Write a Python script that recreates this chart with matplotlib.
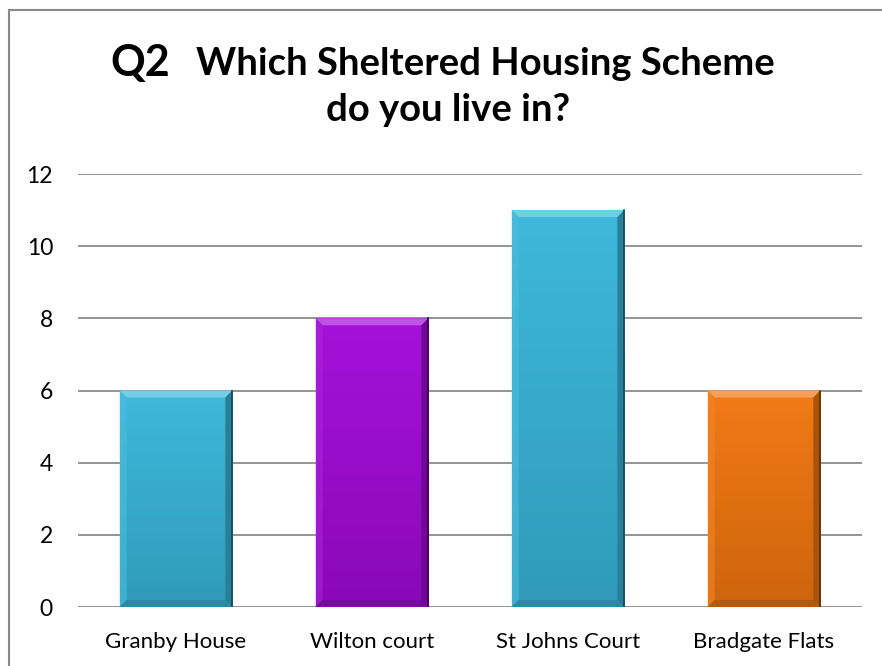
import matplotlib
matplotlib.use("Agg")
import matplotlib.pyplot as plt
import numpy as np
from matplotlib.patches import Polygon
from matplotlib.colors import to_rgb

categories = ["Granby House", "Wilton court", "St Johns Court", "Bradgate Flats"]
values = [6, 8, 11, 6]
colors = ["#38B6DA", "#A20AD8", "#38B6DA", "#F2760F"]
yticks = [0, 2, 4, 6, 8, 10, 12]

W, H = 882, 666
plt.rcParams['font.family'] = ['Lato', 'DejaVu Sans']
fig = plt.figure(figsize=(W / 100, H / 100), dpi=100)

# axes placement in pixels
L, R, T, B = 78, 862, 174, 607
ax = fig.add_axes([L / W, 1 - B / H, (R - L) / W, (B - T) / H])

x = np.arange(len(categories))
bw = 0.575
bars = ax.bar(x, values, width=bw, color=colors, zorder=3, linewidth=0)

ax.set_xlim(-0.5, len(categories) - 0.5)
ax.set_ylim(0, 12)
ax.set_yticks(yticks)
ax.set_yticklabels([str(v) for v in yticks], fontsize=16.5)
ax.set_xticks(x)
ax.set_xticklabels(categories, fontsize=16)
ax.tick_params(axis='both', length=0, colors='black')
ax.tick_params(axis='y', pad=18)
ax.tick_params(axis='x', pad=18)
ax.grid(axis='y', color='#8c8c8c', linewidth=1.3, zorder=0)
for s in ax.spines.values():
    s.set_visible(False)

# bevel effect, computed from bar geometry
pxx = (R - L) / (len(categories))  # pixels per x unit
pxy = (B - T) / 12.0               # pixels per y unit
bev = 7
dx = bev / pxx
dy = bev / pxy

def mix(c, t, amt):
    c = np.array(to_rgb(c)); t = np.array(to_rgb(t))
    return tuple(c + (t - c) * amt)

for rect, col in zip(bars, colors):
    x0 = rect.get_x(); w = rect.get_width(); h = rect.get_height()
    grad = np.linspace(0, 1, 100).reshape(-1, 1)
    c_top = np.array(mix(col, 'white', 0.03))
    c_bot = np.array(mix(col, 'black', 0.15))
    img = c_bot[None, None, :] * (1 - grad[..., None]) + c_top[None, None, :] * grad[..., None]
    img = img[::-1]
    im = ax.imshow(img, extent=(x0, x0 + w, 0, h), aspect='auto', zorder=3.5, origin='upper')
    im.set_clip_path(rect)
    # top bevel
    ax.add_patch(Polygon([(x0, h), (x0 + w, h), (x0 + w - dx, h - dy), (x0 + dx, h - dy)],
                         closed=True, color=mix(col, 'white', 0.3), zorder=4, lw=0))
    # left bevel
    ax.add_patch(Polygon([(x0, h), (x0 + dx, h - dy), (x0 + dx, dy), (x0, 0)],
                         closed=True, color=mix(col, 'white', 0.1), zorder=4, lw=0, alpha=0.6))
    # right bevel
    ax.add_patch(Polygon([(x0 + w, h), (x0 + w - dx, h - dy), (x0 + w - dx, dy), (x0 + w, 0)],
                         closed=True, color=mix(col, 'black', 0.3), zorder=4, lw=0))
    # bottom bevel
    ax.add_patch(Polygon([(x0, 0), (x0 + w, 0), (x0 + w - dx, dy), (x0 + dx, dy)],
                         closed=True, color=mix(col, 'black', 0.25), zorder=4, lw=0))
    ax.plot([x0 + w, x0 + w], [0, h], color=mix(col, 'black', 0.6), lw=1.2, zorder=4.5)

# outer chart border (top and left visible)
fig.add_artist(plt.Line2D([9 / W, 1.0], [1 - 10 / H, 1 - 10 / H], color='#8a8a8a', lw=1.5))
fig.add_artist(plt.Line2D([9 / W, 9 / W], [0, 1 - 10 / H], color='#8a8a8a', lw=1.5))

# title
fig.text(170 / W, 1 - 76 / H, "Q2", ha='right', va='baseline',
         fontsize=31, fontweight='bold')
fig.text(196 / W, 1 - 75 / H, "Which Sheltered Housing Scheme", ha='left', va='baseline',
         fontsize=27.5, fontweight='bold')
fig.text(448 / W, 1 - 121 / H, "do you live in?", ha='center', va='baseline',
         fontsize=27.5, fontweight='bold')

fig.savefig("out.png", dpi=100)
